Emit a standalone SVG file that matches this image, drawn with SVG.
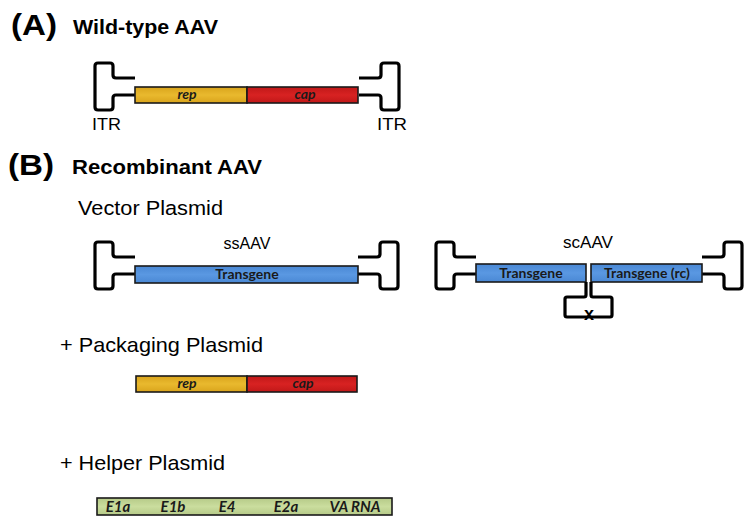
<svg xmlns="http://www.w3.org/2000/svg" xmlns:xlink="http://www.w3.org/1999/xlink" width="754" height="526" viewBox="0 0 754 526">
<style>
.hd{font-family:"Liberation Sans",Arial,sans-serif;font-weight:bold;fill:#000}
.tx{font-family:"Liberation Sans",Arial,sans-serif;fill:#000}
.lb{font-family:Lato,"Open Sans",sans-serif;font-weight:bold;font-size:14px;fill:#1a1a1a;text-anchor:middle}
.gi{font-family:Lato,"Open Sans",sans-serif;font-weight:bold;font-style:italic;font-size:14px;fill:#1a1a1a;text-anchor:middle}
.gh{font-size:15px}
.itr{fill:none;stroke:#000;stroke-width:3.2;stroke-linejoin:round;stroke-linecap:butt}
.bar{stroke:#1a1a1a;stroke-width:1.6}
.rep{fill:url(#gRep)}
.cap{fill:url(#gCap)}
.tg{fill:url(#gTg)}
.hp{fill:url(#gHp)}
</style>
<defs>
<linearGradient id="gRep" x1="0" y1="0" x2="0" y2="1"><stop offset="0" stop-color="#d9a41c"/><stop offset="0.5" stop-color="#e9b92e"/><stop offset="1" stop-color="#d9a41c"/></linearGradient>
<linearGradient id="gCap" x1="0" y1="0" x2="0" y2="1"><stop offset="0" stop-color="#c01818"/><stop offset="0.5" stop-color="#d82222"/><stop offset="1" stop-color="#c01818"/></linearGradient>
<linearGradient id="gTg" x1="0" y1="0" x2="0" y2="1"><stop offset="0" stop-color="#4a88d4"/><stop offset="0.5" stop-color="#5a98e2"/><stop offset="1" stop-color="#4a88d4"/></linearGradient>
<linearGradient id="gHp" x1="0" y1="0" x2="0" y2="1"><stop offset="0" stop-color="#b6ca88"/><stop offset="0.5" stop-color="#cadd9e"/><stop offset="1" stop-color="#b6ca88"/></linearGradient>
<path id="itr" class="itr" d="M40,15 H21 Q18,15 18,12 V3 Q18,0 15,0 H3 Q0,0 0,3 V44 Q0,47 3,47 H15 Q18,47 18,44 V35 Q18,32 21,32 H40"/>
</defs>
<rect width="754" height="526" fill="#fff"/>

<g id="titles">
<text class="hd" x="11" y="35" font-size="30" textLength="46" lengthAdjust="spacingAndGlyphs">(A)</text>
<text class="hd" x="73" y="34" font-size="20" textLength="145" lengthAdjust="spacingAndGlyphs">Wild-type AAV</text>
<text class="hd" x="8" y="175" font-size="30" textLength="46" lengthAdjust="spacingAndGlyphs">(B)</text>
<text class="hd" x="72" y="174" font-size="20" textLength="190" lengthAdjust="spacingAndGlyphs">Recombinant AAV</text>
<text class="tx" x="78" y="215" font-size="20.5" textLength="145" lengthAdjust="spacingAndGlyphs">Vector Plasmid</text>
<text class="tx" x="60" y="352" font-size="21" textLength="203" lengthAdjust="spacingAndGlyphs">+ Packaging Plasmid</text>
<text class="tx" x="60" y="470" font-size="21" textLength="165" lengthAdjust="spacingAndGlyphs">+ Helper Plasmid</text>
</g>

<g id="wildtype">
<use xlink:href="#itr" href="#itr" transform="translate(95,63)"/>
<use xlink:href="#itr" href="#itr" transform="translate(399,63) scale(-1,1)"/>
<rect class="bar rep" x="135" y="87" width="112" height="16"/>
<rect class="bar cap" x="247" y="87" width="111" height="16"/>
<text class="gi" x="187" y="99">rep</text>
<text class="gi" x="305" y="99">cap</text>
<text class="tx" x="92" y="130" font-size="16" textLength="29" lengthAdjust="spacingAndGlyphs">ITR</text>
<text class="tx" x="377" y="130" font-size="16" textLength="30" lengthAdjust="spacingAndGlyphs">ITR</text>
</g>

<g id="ssAAV">
<text class="tx" x="247" y="249" font-size="17" text-anchor="middle" textLength="47" lengthAdjust="spacingAndGlyphs">ssAAV</text>
<use xlink:href="#itr" href="#itr" transform="translate(95,242)"/>
<use xlink:href="#itr" href="#itr" transform="translate(398,242) scale(-1,1)"/>
<rect class="bar tg" x="135" y="266" width="223" height="17"/>
<text class="lb" x="247" y="279">Transgene</text>
</g>

<g id="scAAV">
<text class="tx" x="588" y="248" font-size="17" text-anchor="middle" textLength="50" lengthAdjust="spacingAndGlyphs">scAAV</text>
<use xlink:href="#itr" href="#itr" transform="translate(436,242)"/>
<use xlink:href="#itr" href="#itr" transform="translate(742,242) scale(-1,1)"/>
<rect class="bar tg" x="476" y="264" width="110" height="18"/>
<rect class="bar tg" x="591" y="264" width="111" height="18"/>
<path class="itr" d="M586,282 V295 Q586,297 584,297 H567 Q565,297 565,299 V315 Q565,317 567,317 H610 Q612,317 612,315 V299 Q612,297 610,297 H593 Q591,297 591,295 V282"/>
<text class="hd" x="589" y="320" font-size="18" text-anchor="middle">x</text>
<text class="lb" x="531" y="278">Transgene</text>
<text class="lb" x="647" y="278">Transgene (rc)</text>
</g>

<g id="packaging">
<rect class="bar rep" x="136" y="376" width="111" height="16"/>
<rect class="bar cap" x="247" y="376" width="110" height="16"/>
<text class="gi" x="187" y="388">rep</text>
<text class="gi" x="303" y="388">cap</text>
</g>

<g id="helper">
<rect class="bar hp" x="97" y="498" width="295" height="17"/>
<text class="gi gh" x="118" y="512">E1a</text>
<text class="gi gh" x="173" y="512">E1b</text>
<text class="gi gh" x="227" y="512">E4</text>
<text class="gi gh" x="286" y="512">E2a</text>
<text class="gi gh" x="355" y="512">VA RNA</text>
</g>

<g id="connectors"></g>
</svg>
